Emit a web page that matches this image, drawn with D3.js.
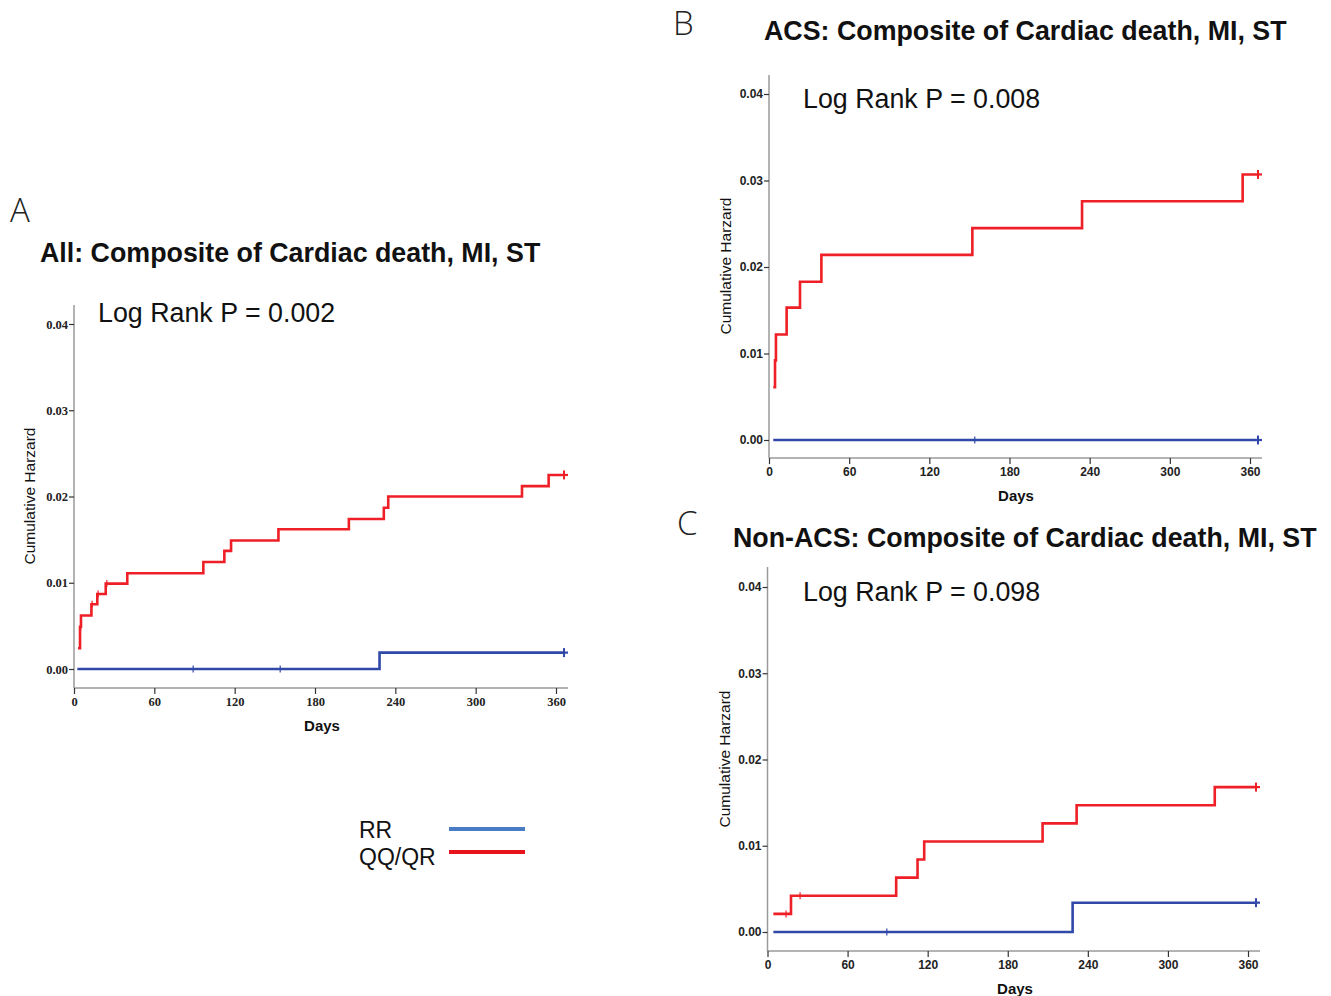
<!DOCTYPE html>
<html>
<head>
<meta charset="utf-8">
<script src="https://cdn.jsdelivr.net/npm/d3@7"></script>
<style>
  body { margin: 0; background: #fff; }
  svg { display: block; }
</style>
</head>
<body>
<svg id="chart" width="1331" height="996"></svg>
<script>
// labels
const panelLetters = ["A", "B", "C"];
const panelTitles = [
  "All: Composite of Cardiac death, MI, ST",
  "ACS: Composite of Cardiac death, MI, ST",
  "Non-ACS: Composite of Cardiac death, MI, ST"
];
const pValues = ["0.002", "0.008", "0.098"];
const xTicks = [0, 60, 120, 180, 240, 300, 360];
const yTicks = [0, 0.01, 0.02, 0.03, 0.04];
const seriesNames = ["RR", "QQ/QR"];
const lastDay = 366;

// event times (days) and cumulative hazard after each event, plus censor marks
const timeA_RR = [2.5, 228.2];
const hazA_RR = [0, 0.0019];
const censA_RR = [89, 154, 366];
const timeA_QQ = [3, 4.5, 5.2, 13, 17.4, 23.7, 39.8, 96.6, 112.3, 117.3, 152.7, 205.3, 231.4, 234.7, 334.6, 354.5];
const hazA_QQ = [0.0024, 0.0049, 0.0062, 0.0075, 0.0087, 0.0099, 0.0111, 0.0124, 0.0137, 0.0149, 0.0162, 0.0174, 0.0187, 0.0200, 0.0212, 0.0225];
const censA_QQ = [5, 13.5, 18, 24.5, 366];

const timeB_RR = [3.2];
const hazB_RR = [0];
const censB_RR = [154, 366];
const timeB_QQ = [3.2, 4.5, 5.2, 13.2, 23.2, 39.2, 152.2, 234.3, 354.5];
const hazB_QQ = [0.0061, 0.0092, 0.0122, 0.0153, 0.0183, 0.0214, 0.0245, 0.0276, 0.0307];
const censB_QQ = [366];

const timeC_RR = [4.4, 228.6];
const hazC_RR = [0, 0.0034];
const censC_RR = [89.4, 366];
const timeC_QQ = [4.4, 17.6, 96.4, 112.4, 117.4, 206.1, 231.6, 335.1];
const hazC_QQ = [0.0021, 0.0042, 0.0063, 0.0084, 0.0105, 0.0126, 0.0147, 0.0168];
const censC_QQ = [13.9, 24.4, 366];

const colRR = "#3048a8", colQQ = "#ee1f26";

// panel placement on the page
const panels = [
  { x0: 74, x360: 556, y0: 669, y4: 324, axisY: 688, top: 305, tickFont: "'Liberation Serif', serif",
    letter: [10, 222], title: [40, 262], p: [98, 322], ylab: [35, 496], days: [322, 731],
    series: [[timeA_RR, hazA_RR, censA_RR], [timeA_QQ, hazA_QQ, censA_QQ]] },
  { x0: 769, x360: 1250, y0: 440, y4: 94, axisY: 458, top: 75, tickFont: "'Liberation Sans', Arial, sans-serif",
    letter: [673, 35], title: [764, 40], p: [803, 108], ylab: [731, 266], days: [1016, 501],
    series: [[timeB_RR, hazB_RR, censB_RR], [timeB_QQ, hazB_QQ, censB_QQ]] },
  { x0: 767.5, x360: 1248, y0: 932, y4: 587, axisY: 951, top: 567, tickFont: "'Liberation Sans', Arial, sans-serif",
    letter: [677, 535], title: [733, 547], p: [803, 601], ylab: [730, 759], days: [1015, 994],
    series: [[timeC_RR, hazC_RR, censC_RR], [timeC_QQ, hazC_QQ, censC_QQ]] }
];

const svg = d3.select("#chart");
const sans = "'Liberation Sans', Arial, sans-serif";

panels.forEach((p, i) => {
  const x = d3.scaleLinear().domain([0, 360]).range([p.x0, p.x360]);
  const y = d3.scaleLinear().domain([0, 0.04]).range([p.y0, p.y4]);
  const g = svg.append("g");

  // axis lines
  g.append("line").attr("x1", p.x0).attr("x2", p.x0).attr("y1", p.top).attr("y2", p.axisY)
    .attr("stroke", "#9a9a9a").attr("stroke-width", 1.5);
  g.append("line").attr("x1", p.x0).attr("x2", x(369)).attr("y1", p.axisY).attr("y2", p.axisY)
    .attr("stroke", "#9a9a9a").attr("stroke-width", 1.5);

  const yAxis = g.append("g").attr("transform", `translate(${p.x0},0)`)
    .call(d3.axisLeft(y).tickValues(yTicks).tickFormat(d3.format(".2f")).tickSize(5).tickPadding(1));
  const xAxis = g.append("g").attr("transform", `translate(0,${p.axisY})`)
    .call(d3.axisBottom(x).tickValues(xTicks).tickSize(6).tickPadding(3));
  [yAxis, xAxis].forEach(a => {
    a.select(".domain").remove();
    a.selectAll("line").attr("stroke", "#333").attr("stroke-width", 1.2);
    a.selectAll("text").attr("font-family", p.tickFont).attr("font-weight", "bold")
      .attr("font-size", i === 0 ? 12.5 : 12).attr("fill", "#222");
  });

  // curves
  p.series.forEach(([times, haz, cens], s) => {
    const pts = times.map((t, k) => [t, haz[k]]);
    pts.push([lastDay, haz[haz.length - 1]]);
    const col = s === 0 ? colRR : colQQ;
    g.append("path")
      .attr("d", d3.line().x(d => x(d[0])).y(d => y(d[1])).curve(d3.curveStepAfter)(pts))
      .attr("fill", "none").attr("stroke", col).attr("stroke-width", 2.6);
    const hAt = t => { let v = haz[0]; times.forEach((tt, k) => { if (tt <= t) v = haz[k]; }); return v; };
    cens.forEach(t => {
      const big = t === lastDay;
      g.append("line").attr("x1", x(t)).attr("x2", x(t))
        .attr("y1", y(hAt(t)) - (big ? 4.5 : 3.5)).attr("y2", y(hAt(t)) + (big ? 4.5 : 3.5))
        .attr("stroke", col).attr("stroke-width", big ? 2 : 1.2);
      if (big) {
        g.append("line").attr("x1", x(t)).attr("x2", x(t) + 4)
          .attr("y1", y(hAt(t))).attr("y2", y(hAt(t)))
          .attr("stroke", col).attr("stroke-width", 2.2);
      }
    });
  });

  // text
  svg.append("text").attr("x", p.letter[0]).attr("y", p.letter[1]).text(panelLetters[i])
    .attr("font-family", "'Open Sans', sans-serif").attr("font-weight", 300).attr("font-size", 33).attr("fill", "#222");
  svg.append("text").attr("x", p.title[0]).attr("y", p.title[1]).text(panelTitles[i])
    .attr("font-family", sans).attr("font-weight", "bold").attr("font-size", 26.8).attr("fill", "#111");
  svg.append("text").attr("x", p.p[0]).attr("y", p.p[1]).text("Log Rank P = " + pValues[i])
    .attr("font-family", sans).attr("font-size", 26.8).attr("fill", "#111");
  svg.append("text").attr("transform", `translate(${p.ylab[0]},${p.ylab[1]}) rotate(-90)`)
    .attr("text-anchor", "middle").text("Cumulative Harzard")
    .attr("font-family", sans).attr("font-size", 15.5).attr("fill", "#111");
  svg.append("text").attr("x", p.days[0]).attr("y", p.days[1]).attr("text-anchor", "middle").text("Days")
    .attr("font-family", sans).attr("font-weight", "bold").attr("font-size", 15).attr("fill", "#111");
});

// legend
const legendCols = ["#4a7cc6", "#e8141c"];
seriesNames.forEach((name, k) => {
  svg.append("text").attr("x", 359).attr("y", 838 + k * 27).text(name)
    .attr("font-family", sans).attr("font-size", 23).attr("fill", "#111");
  svg.append("line").attr("x1", 449).attr("x2", 525).attr("y1", 829 + k * 23).attr("y2", 829 + k * 23)
    .attr("stroke", legendCols[k]).attr("stroke-width", 4);
});
</script>
</body>
</html>
